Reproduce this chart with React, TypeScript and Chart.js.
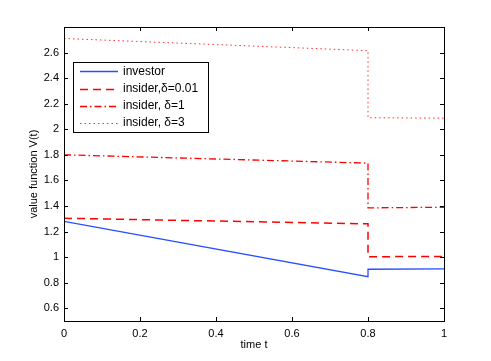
import React, { useEffect, useRef } from "react";
import { Chart, registerables } from "chart.js";

Chart.register(...registerables);

// Data (time t, value V(t))
const investorT = [0, 0.8, 0.8, 1];
const investorV = [1.28, 0.847, 0.905, 0.908];
const insider001T = [0, 0.8, 0.8, 1];
const insider001V = [1.304, 1.26, 1.003, 1.005];
const insider1T = [0, 0.8, 0.8, 1];
const insider1V = [1.8, 1.735, 1.385, 1.39];
const insider3T = [0, 0.8, 0.8, 1];
const insider3V = [2.71, 2.615, 2.09, 2.087];

const seriesLabels = ["investor", "insider,\u03b4=0.01", "insider, \u03b4=1", "insider, \u03b4=3"];
const xTicks = [0, 0.2, 0.4, 0.6, 0.8, 1];
const yTicks = [0.6, 0.8, 1, 1.2, 1.4, 1.6, 1.8, 2, 2.2, 2.4, 2.6];

const FONT = "'Liberation Sans', Arial, Helvetica, sans-serif";

function pts(t: number[], v: number[]) {
  return t.map((x, i) => ({ x, y: v[i] }));
}

const framePlugin = {
  id: "frameTicks",
  afterDatasetsDraw(chart: any) {
    const { ctx, chartArea: a, scales } = chart;
    const xs = scales.x;
    const ys = scales.y;
    ctx.save();
    ctx.strokeStyle = "#000";
    ctx.lineWidth = 1;
    ctx.setLineDash([]);
    const L = 4;
    ctx.beginPath();
    xTicks.forEach((t) => {
      const px = Math.round(xs.getPixelForValue(t)) + 0.5;
      ctx.moveTo(px, a.bottom);
      ctx.lineTo(px, a.bottom - L);
      ctx.moveTo(px, a.top);
      ctx.lineTo(px, a.top + L);
    });
    yTicks.forEach((t) => {
      const py = Math.round(ys.getPixelForValue(t)) + 0.5;
      ctx.moveTo(a.left, py);
      ctx.lineTo(a.left + L, py);
      ctx.moveTo(a.right, py);
      ctx.lineTo(a.right - L, py);
    });
    ctx.stroke();
    ctx.strokeRect(Math.round(a.left) + 0.5, Math.round(a.top) + 0.5, Math.round(a.right - a.left), Math.round(a.bottom - a.top));

    // legend box inside plot
    const bx = 73, by = 62, bw = 135, bh = 70;
    ctx.fillStyle = "#fff";
    ctx.fillRect(bx, by, bw, bh);
    ctx.strokeStyle = "#000";
    ctx.strokeRect(bx + 0.5, by + 0.5, bw, bh);
    const rows = [71, 88.5, 105.5, 122.5];
    chart.data.datasets.forEach((ds: any, i: number) => {
      const y = Math.round(rows[i]) + 0.5;
      ctx.strokeStyle = ds.borderColor;
      ctx.lineWidth = ds.borderWidth;
      ctx.setLineDash(ds.borderDash || []);
      ctx.beginPath();
      ctx.moveTo(80, y);
      ctx.lineTo(118, y);
      ctx.stroke();
      ctx.setLineDash([]);
      ctx.fillStyle = "#000";
      ctx.font = `12px ${FONT}`;
      ctx.textBaseline = "middle";
      ctx.textAlign = "left";
      ctx.fillText(ds.label, 123, rows[i] + 0.5);
    });
    ctx.restore();
  },
};

export default function App() {
  const ref = useRef<HTMLCanvasElement>(null);
  useEffect(() => {
    document.body.style.margin = "0";
    const chart = new Chart(ref.current!, {
      type: "line",
      data: {
        datasets: [
          {
            label: seriesLabels[0],
            data: pts(investorT, investorV),
            borderColor: "#2a4dff",
            borderWidth: 1.3,
            pointRadius: 0,
            fill: false,
          },
          {
            label: seriesLabels[1],
            data: pts(insider001T, insider001V),
            borderColor: "#ff0000",
            borderWidth: 1.5,
            borderDash: [8, 5],
            pointRadius: 0,
            fill: false,
          },
          {
            label: seriesLabels[2],
            data: pts(insider1T, insider1V),
            borderColor: "#ff0000",
            borderWidth: 1.3,
            borderDash: [7, 3, 1.5, 3],
            pointRadius: 0,
            fill: false,
          },
          {
            label: seriesLabels[3],
            data: pts(insider3T, insider3V),
            borderColor: "#ff3030",
            borderWidth: 1,
            borderDash: [1.5, 3],
            pointRadius: 0,
            fill: false,
          },
        ],
      },
      options: {
        animation: false,
        responsive: false,
        devicePixelRatio: 1,
        layout: { padding: { top: 27, right: 47, left: 0, bottom: 0 } },
        plugins: { legend: { display: false }, tooltip: { enabled: false } },
        scales: {
          x: {
            type: "linear",
            min: 0,
            max: 1,
            grid: { display: false, drawTicks: false },
            border: { display: false },
            afterBuildTicks: (s: any) => {
              s.ticks = xTicks.map((v) => ({ value: v }));
            },
            afterFit: (s: any) => {
              s.height = 40;
            },
            ticks: {
              color: "#000",
              font: { family: FONT, size: 11 },
              padding: 6,
              maxRotation: 0,
              callback: (v: any) => String(v),
            },
            title: {
              display: true,
              text: "time t",
              color: "#000",
              font: { family: FONT, size: 11 },
              padding: { top: 0, bottom: 9 },
            },
          },
          y: {
            type: "linear",
            min: 0.5,
            max: 2.8,
            grid: { display: false, drawTicks: false },
            border: { display: false },
            afterBuildTicks: (s: any) => {
              s.ticks = yTicks.map((v) => ({ value: v }));
            },
            afterFit: (s: any) => {
              s.width = 64;
            },
            ticks: {
              color: "#000",
              font: { family: FONT, size: 11 },
              padding: 5,
              callback: (v: any) => String(Math.round(v * 10) / 10),
            },
            title: {
              display: true,
              text: "value function V(t)",
              color: "#000",
              font: { family: FONT, size: 11 },
              padding: { top: 27, bottom: 0 },
            },
          },
        },
      },
      plugins: [framePlugin],
    } as any);
    return () => chart.destroy();
  }, []);
  return (
    <div style={{ position: "absolute", left: 0, top: 0, width: 491, height: 361, background: "#fff" }}>
      <canvas ref={ref} width={491} height={361} style={{ display: "block" }} />
    </div>
  );
}
